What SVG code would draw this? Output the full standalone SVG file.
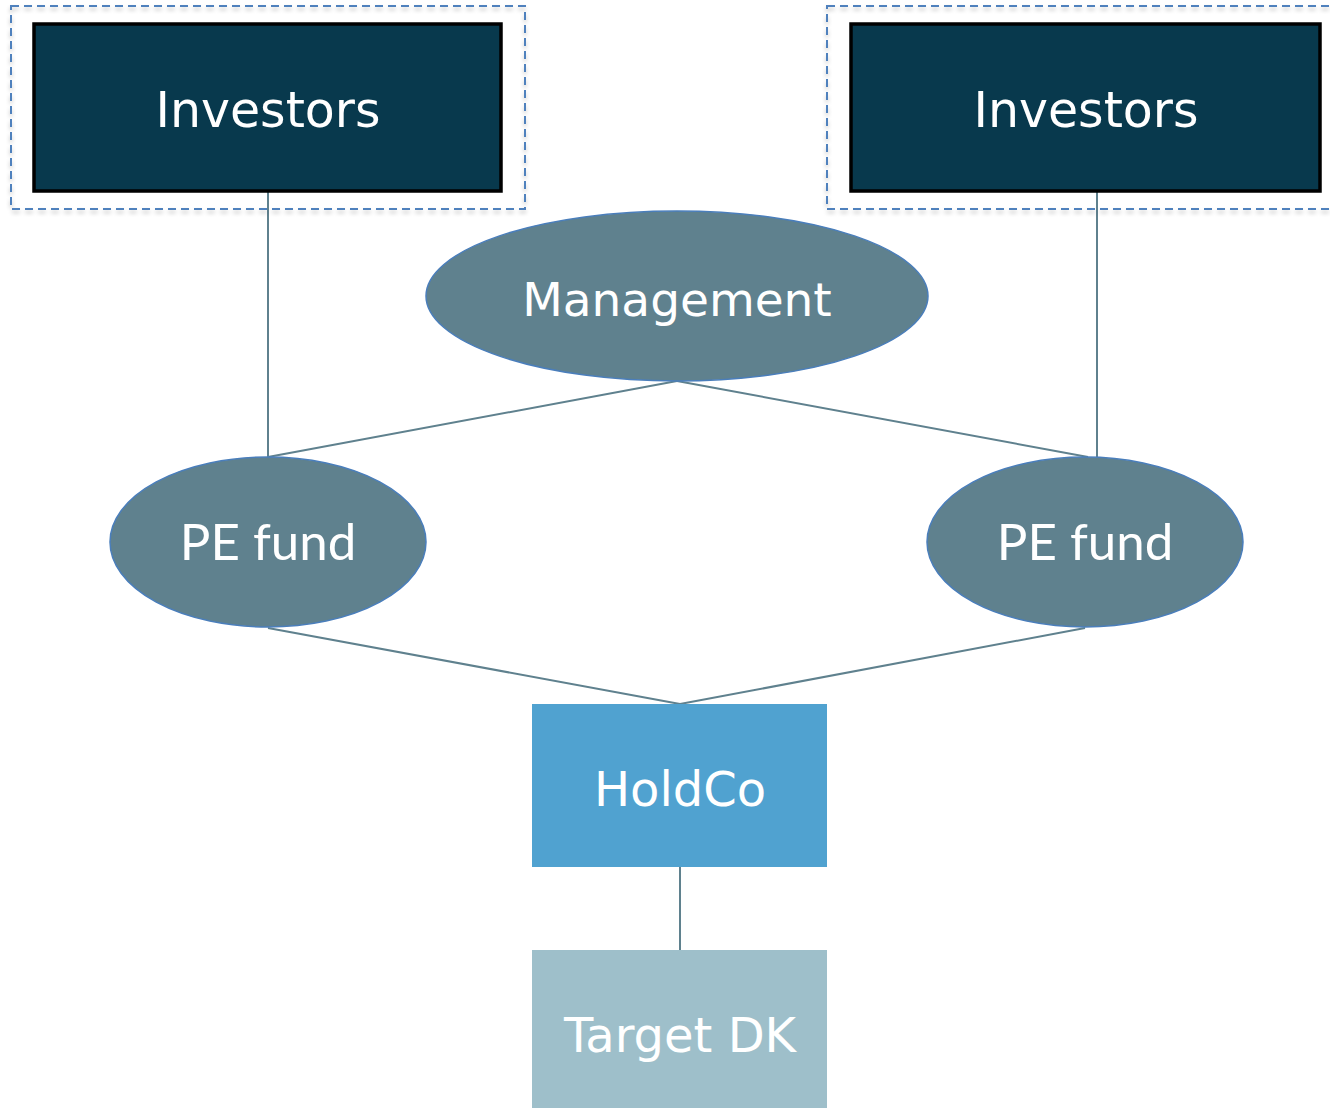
<svg xmlns="http://www.w3.org/2000/svg" width="1330" height="1108" viewBox="0 0 1330 1108">
<defs>
<filter id="sh" x="-5%" y="-5%" width="110%" height="115%">
<feGaussianBlur in="SourceAlpha" stdDeviation="2"/>
<feOffset dx="0" dy="3" result="b"/>
<feComponentTransfer><feFuncA type="linear" slope="0.25"/></feComponentTransfer>
<feMerge><feMergeNode/><feMergeNode in="SourceGraphic"/></feMerge>
</filter>
</defs>
<style>
.grp{fill:none;stroke:#4f81bd;stroke-width:2;stroke-dasharray:8 5}
.inv{fill:#08394d;stroke:#000;stroke-width:3.5}
.ell{fill:#5f818e;stroke:#4a7ebb;stroke-width:1.5}
.t{font-family:"DejaVu Sans",Verdana,sans-serif;fill:#fff;text-anchor:middle}
.tc{font-family:Lato,"Open Sans",sans-serif;fill:#fff;text-anchor:middle}
.c{stroke:#5f818e;stroke-width:2;fill:none}
</style>
<g id="connectors">
<line class="c" x1="268" y1="191" x2="268" y2="457"/>
<line class="c" x1="1097" y1="191" x2="1097" y2="457"/>
<line class="c" x1="677" y1="381" x2="268" y2="457"/>
<line class="c" x1="677" y1="381" x2="1088" y2="457"/>
<line class="c" x1="268" y1="628" x2="680" y2="704"/>
<line class="c" x1="1085" y1="628" x2="680" y2="704"/>
<line class="c" x1="680" y1="867" x2="680" y2="950"/>
</g>
<g id="investors-left">
<rect class="grp" x="11" y="6" width="514" height="203" filter="url(#sh)"/>
<rect class="inv" x="34" y="24" width="467" height="167"/>
<text class="t" x="268" y="127" font-size="49">Investors</text>
</g>
<g id="investors-right">
<rect class="grp" x="827" y="6" width="520" height="203" filter="url(#sh)"/>
<rect class="inv" x="851" y="24" width="469" height="167"/>
<text class="t" x="1086" y="127" font-size="49">Investors</text>
</g>
<g id="management">
<ellipse class="ell" cx="677" cy="296" rx="251" ry="85"/>
<text class="t" x="677" y="316" font-size="47">Management</text>
</g>
<g id="pe-fund-left">
<ellipse class="ell" cx="268" cy="542" rx="158" ry="85"/>
<text class="tc" x="268" y="560" font-size="51">PE fund</text>
</g>
<g id="pe-fund-right">
<ellipse class="ell" cx="1085" cy="542" rx="158" ry="85"/>
<text class="tc" x="1085" y="560" font-size="51">PE fund</text>
</g>
<g id="holdco">
<rect x="532" y="704" width="295" height="163" fill="#50a2d0"/>
<text class="t" x="680" y="806" font-size="48">HoldCo</text>
</g>
<g id="target-dk">
<rect x="532" y="950" width="295" height="158" fill="#9ebfca"/>
<text class="t" x="680" y="1052" font-size="48" fill="#f2f2f2">Target DK</text>
</g>
</svg>
